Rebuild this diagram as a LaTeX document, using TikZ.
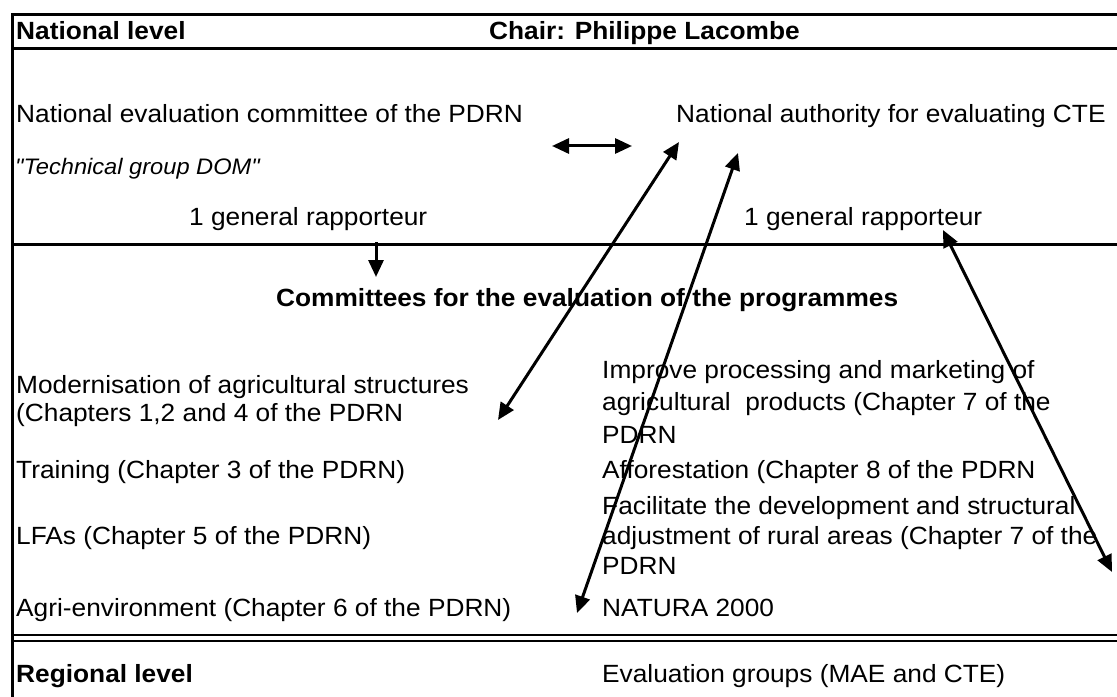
\documentclass[tikz,border=0pt]{standalone}
\usepackage{fontspec}
\setmainfont{Liberation Sans}[FakeStretch=1.055, Ligatures=TeXOff]
\usetikzlibrary{arrows.meta}
\begin{document}
\begin{tikzpicture}[x=1bp,y=-1bp,
  txt/.style={anchor=base west, inner sep=0pt, font=\fontsize{25}{29}\selectfont},
  boldtxt/.style={anchor=base west, inner sep=0pt, font=\fontsize{25}{29}\selectfont\bfseries},
  smalltxt/.style={anchor=base west, inner sep=0pt, font=\fontsize{22.5}{26}\selectfont\itshape},
  rule/.style={line width=3bp},
  thinrule/.style={line width=2bp},
  arr/.style={line width=3bp, -{Triangle[length=17bp,width=15bp]}},
  darr/.style={line width=3bp, {Triangle[length=17bp,width=15bp]}-{Triangle[length=17bp,width=15bp]}}]
\useasboundingbox (0,0) rectangle (1117,697);
% frame lines
\draw[rule] (12,15) -- (1117,15);
\draw[rule] (12,49) -- (1117,49);
\draw[rule] (12,244) -- (1117,244);
\draw[thinrule] (12,635) -- (1117,635);
\draw[thinrule] (12,640.5) -- (1117,640.5);
\draw[rule] (12,13.5) -- (12,697);
% texts
\node[boldtxt] (nl) at (16,40) {National level};
\node[boldtxt] (chair) at (489,40) {Chair: Philippe Lacombe};
\node[txt] (nec) at (16,123) {National evaluation committee of the PDRN};
\node[txt] (nae) at (676,123) {National authority for evaluating CTE};
\node[smalltxt] (tg) at (15,175) {"Technical group DOM"};
\node[txt] (gr1) at (189,225) {1 general rapporteur};
\node[txt] (gr2) at (744,225) {1 general rapporteur};
\node[boldtxt] (cep) at (276,306) {Committees for the evaluation of the programmes};
\node[txt] (mod1) at (16,393) {Modernisation of agricultural structures};
\node[txt] (mod2) at (16,421) {(Chapters 1,2 and 4 of the PDRN};
\node[txt] (imp1) at (602,378) {Improve processing and marketing of};
\node[txt] (imp2) at (602,410) {agricultural\ \ products (Chapter 7 of the};
\node[txt] (imp3) at (602,443) {PDRN};
\node[txt] (trn) at (16,478) {Training (Chapter 3 of the PDRN)};
\node[txt] (aff) at (602,478) {Afforestation (Chapter 8 of the PDRN};
\node[txt] (fac1) at (602,514) {Facilitate the development and structural};
\node[txt] (fac2) at (602,544) {adjustment of rural areas (Chapter 7 of the};
\node[txt] (fac3) at (602,574) {PDRN};
\node[txt] (lfa) at (16,544) {LFAs (Chapter 5 of the PDRN)};
\node[txt] (agr) at (16,616) {Agri-environment (Chapter 6 of the PDRN)};
\node[txt] (nat) at (602,616) {NATURA 2000};
\node[boldtxt] (reg) at (16,682) {Regional level};
\node[txt] (evg) at (602,682) {Evaluation groups (MAE and CTE)};
% arrow end points
\coordinate (dl) at (552,146);
\coordinate (dr) at (632,146);
\coordinate (a1s) at (498,420);
\coordinate (a1e) at (679,142);
\coordinate (a2s) at (577,613);
\coordinate (a2e) at (738,153);
\coordinate (a3s) at (1112,572);
\coordinate (a3e) at (943,230);
\coordinate (ds) at (376,242);
\coordinate (de) at (376,277);
% arrows
\draw[darr] (dl) -- (dr);
\draw[darr] (a1s) -- (a1e);
\draw[darr] (a2s) -- (a2e);
\draw[darr] (a3s) -- (a3e);
\draw[arr] (ds) -- (de);
\end{tikzpicture}
\end{document}
